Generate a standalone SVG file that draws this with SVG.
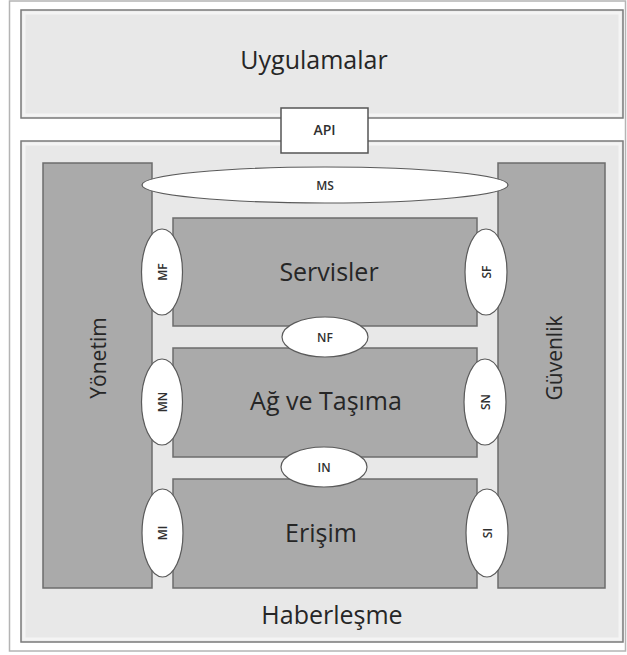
<svg xmlns="http://www.w3.org/2000/svg" width="627" height="655" viewBox="0 0 627 655">
  <style>
    .frame { fill: #ffffff; stroke: #b4b4b4; stroke-width: 1.5; }
    .light { fill: #e8e8e8; stroke: #7a7a7a; stroke-width: 1.5; }
    .bevel { fill: none; stroke: #f4f4f4; stroke-width: 3; }
    .dark { fill: #aaaaaa; stroke: #6c6c6c; stroke-width: 1.5; }
    .port { fill: #ffffff; stroke: #5a5a5a; stroke-width: 1.2; }
    .big { font-family: "Open Sans", "Noto Sans", sans-serif; font-size: 25px; fill: #262626; text-anchor: middle; }
    .side { font-family: "Open Sans", "Noto Sans", sans-serif; font-size: 21px; fill: #262626; text-anchor: middle; }
    .small { font-family: "Open Sans", "Noto Sans", sans-serif; font-size: 12px; font-weight: 600; fill: #303030; text-anchor: middle; }
  </style>

  <rect class="frame" x="9.5" y="1" width="616" height="650"/>

  <!-- communication layer container -->
  <g id="haberlesme">
    <rect class="light" x="21" y="141" width="602" height="501"/>
    <rect class="bevel" x="24" y="144" width="596" height="495"/>
    <text class="big" x="332" y="624">Haberleşme</text>
  </g>

  <!-- application layer -->
  <g id="uygulamalar">
    <rect class="light" x="21" y="10" width="602" height="108"/>
    <rect class="bevel" x="24" y="13" width="596" height="102"/>
    <text class="big" x="314" y="69">Uygulamalar</text>
  </g>

  <g id="api">
    <rect x="281" y="108" width="87" height="45" fill="#ffffff" stroke="#555555" stroke-width="1.5"/>
    <text class="small" x="324.5" y="135" style="font-size:14px">API</text>
  </g>

  <!-- side columns -->
  <g id="yonetim">
    <rect class="dark" x="43" y="163" width="109" height="425"/>
    <text class="side" transform="translate(106,358) rotate(-90)">Yönetim</text>
  </g>
  <g id="guvenlik">
    <rect class="dark" x="498" y="163" width="107" height="425"/>
    <text class="side" transform="translate(562,358) rotate(-90)">Güvenlik</text>
  </g>

  <!-- inner layers -->
  <g id="servisler">
    <rect class="dark" x="173" y="218" width="304" height="108"/>
    <text class="big" x="329" y="281">Servisler</text>
  </g>
  <g id="ag-ve-tasima">
    <rect class="dark" x="173" y="348" width="304" height="109"/>
    <text class="big" x="326" y="410">Ağ ve Taşıma</text>
  </g>
  <g id="erisim">
    <rect class="dark" x="173" y="479" width="304" height="109"/>
    <text class="big" x="321" y="542">Erişim</text>
  </g>

  <!-- interface points -->
  <g id="ms">
    <ellipse class="port" cx="325" cy="185" rx="183" ry="18"/>
    <text class="small" x="325" y="189.5">MS</text>
  </g>
  <g id="nf">
    <ellipse class="port" cx="325" cy="337" rx="43" ry="20"/>
    <text class="small" x="325" y="341.5">NF</text>
  </g>
  <g id="in">
    <ellipse class="port" cx="324" cy="467" rx="43" ry="20"/>
    <text class="small" x="324" y="471.5">IN</text>
  </g>
  <g id="mf">
    <ellipse class="port" cx="162" cy="272" rx="20.5" ry="43"/>
    <text class="small" transform="translate(166.5,272) rotate(-90)">MF</text>
  </g>
  <g id="mn">
    <ellipse class="port" cx="162" cy="402" rx="20.5" ry="43"/>
    <text class="small" transform="translate(166.5,402) rotate(-90)">MN</text>
  </g>
  <g id="mi">
    <ellipse class="port" cx="162.5" cy="533" rx="20.5" ry="44"/>
    <text class="small" transform="translate(167,533) rotate(-90)">MI</text>
  </g>
  <g id="sf">
    <ellipse class="port" cx="486" cy="272" rx="21" ry="43"/>
    <text class="small" transform="translate(490.5,272) rotate(-90)">SF</text>
  </g>
  <g id="sn">
    <ellipse class="port" cx="485" cy="402" rx="21" ry="43"/>
    <text class="small" transform="translate(489.5,402) rotate(-90)">SN</text>
  </g>
  <g id="si">
    <ellipse class="port" cx="487" cy="533" rx="21" ry="44"/>
    <text class="small" transform="translate(491.5,533) rotate(-90)">SI</text>
  </g>
</svg>
